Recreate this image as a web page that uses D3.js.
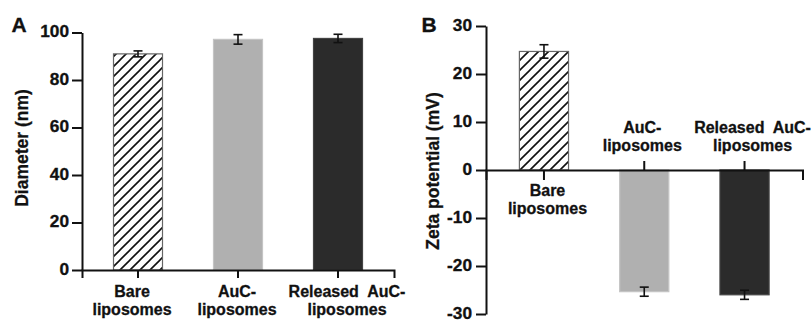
<!DOCTYPE html>
<html>
<head>
<meta charset="utf-8">
<script src="https://cdn.jsdelivr.net/npm/d3@7"></script>
<style>
  body { margin: 0; background: #fff; }
  svg text { font-family: "Liberation Sans", Arial, sans-serif; font-weight: bold; fill: #111; stroke: #111; stroke-width: 0.3; white-space: pre; }
  .axis path, .axis line { stroke: #111; stroke-width: 2; }
</style>
</head>
<body>
<div id="chart"></div>
<script>
"use strict";

// data
var categories = ["Bare liposomes", "AuC-liposomes", "Released AuC-liposomes"];
var labelLines = [["Bare", "liposomes"], ["AuC-", "liposomes"], ["Released  AuC-", "liposomes"]];
var diameter = [91.0, 97.1, 97.5];
var diameterErr = [1.25, 2.0, 1.75];
var zeta = [24.7, -25.35, -26.0];
var zetaErr = [1.4, 0.95, 0.95];
var diameterTicks = [0, 20, 40, 60, 80, 100];
var zetaTicks = [-30, -20, -10, 0, 10, 20, 30];

var width = 812,
  height = 321;

var fills = ["url(#hatch)", "#b0b0b0", "#2b2b2b"];
var strokes = ["#666", "#c4c4c4", "#444"];

var svg = d3
  .select("#chart")
  .append("svg")
  .attr("width", width)
  .attr("height", height);

// hatch pattern for the bare liposomes bar
var pat = svg
  .append("defs")
  .append("pattern")
  .attr("id", "hatch")
  .attr("patternUnits", "userSpaceOnUse")
  .attr("width", 10)
  .attr("height", 10);
pat.append("rect").attr("width", 10).attr("height", 10).attr("fill", "#fff");
pat
  .append("path")
  .attr("d", "M-1,1 l2,-2 M0,10 l10,-10 M9,11 l2,-2")
  .attr("stroke", "#111")
  .attr("stroke-width", 1.6);

// text helper (sx stretches horizontally)
function label(g, x, y, str, size, anchor, sx) {
  return g
    .append("text")
    .attr("transform", "translate(" + x + "," + y + ") scale(" + sx + ",1)")
    .attr("text-anchor", anchor)
    .attr("xml:space", "preserve")
    .style("font-size", size + "px")
    .text(str);
}

function panel(opts) {
  var g = svg.append("g");
  var y = d3.scaleLinear().domain(opts.domain).range(opts.yRange);
  var x = d3
    .scaleBand()
    .domain(categories)
    .range(opts.xRange)
    .paddingInner(0.51)
    .paddingOuter(opts.padOuter);

  // bars
  g.selectAll("rect.bar")
    .data(opts.values)
    .enter()
    .append("rect")
    .attr("class", "bar")
    .attr("x", function(d, i) { return x(categories[i]); })
    .attr("width", x.bandwidth())
    .attr("y", function(d) { return y(Math.max(0, d)); })
    .attr("height", function(d) { return Math.abs(y(d) - y(0)); })
    .attr("fill", function(d, i) { return fills[i]; })
    .attr("stroke", function(d, i) { return strokes[i]; })
    .attr("stroke-width", 1.2);

  // error bars
  var eb = g.selectAll("g.err")
    .data(opts.values)
    .enter()
    .append("g")
    .attr("class", "err")
    .attr("stroke", "#111")
    .attr("stroke-width", 1.6);
  eb.append("line")
    .attr("x1", function(d, i) { return x(categories[i]) + x.bandwidth() / 2; })
    .attr("x2", function(d, i) { return x(categories[i]) + x.bandwidth() / 2; })
    .attr("y1", function(d, i) { return y(d - opts.errs[i]); })
    .attr("y2", function(d, i) { return y(d + opts.errs[i]); });
  [-1, 1].forEach(function(s) {
    eb.append("line")
      .attr("x1", function(d, i) { return x(categories[i]) + x.bandwidth() / 2 - 4.5; })
      .attr("x2", function(d, i) { return x(categories[i]) + x.bandwidth() / 2 + 4.5; })
      .attr("y1", function(d, i) { return y(d + s * opts.errs[i]); })
      .attr("y2", function(d, i) { return y(d + s * opts.errs[i]); });
  });

  // y axis
  var ya = g
    .append("g")
    .attr("class", "axis")
    .attr("transform", "translate(" + opts.xRange[0] + ",0)")
    .call(d3.axisLeft(y).tickValues(opts.ticks).tickSize(10).tickSizeOuter(0));
  ya.selectAll("text").remove();
  ya.selectAll(".tick").each(function(d) {
    label(d3.select(this), -opts.labelGap, 4, d, 16, "end", 1.08);
  });

  // x axis through zero
  var xa = g
    .append("g")
    .attr("class", "axis")
    .attr("transform", "translate(0," + y(0) + ")")
    .call(d3.axisBottom(x).tickSize(opts.tickDown).tickSizeOuter(opts.tickDown));
  xa.selectAll("text").remove();
  xa.selectAll(".tick line").attr("y2", function(d, i) { return opts.tickDir[i] * opts.tickDown; });

  // category labels
  labelLines.forEach(function(lines, i) {
    var cx = x(categories[i]) + x.bandwidth() / 2 + opts.labelShift[i];
    lines.forEach(function(t, j) {
      label(g, cx, opts.labelY[i] + j * 18, t, 16, "middle", 1);
    });
  });

  // axis title
  g.append("text")
    .attr("transform", "translate(" + opts.titleX + "," + opts.titleY + ") rotate(-90)")
    .attr("text-anchor", "middle")
    .style("font-size", "17.5px")
    .text(opts.title);

  // panel letter
  label(g, opts.letterX, 31.5, opts.letter, 20, "start", 1.05);
}

panel({
  values: diameter,
  errs: diameterErr,
  domain: [0, 100],
  ticks: diameterTicks,
  yRange: [270, 32.5],
  xRange: [82, 394],
  padOuter: 0.315,
  tickDown: 8,
  tickDir: [1, 1, 1],
  labelShift: [-6, -1, 9],
  labelY: [297, 297, 297],
  labelGap: 13,
  title: "Diameter (nm)",
  titleX: 28,
  titleY: 148,
  letter: "A",
  letterX: 11.5
});

panel({
  values: zeta,
  errs: zetaErr,
  domain: [-30, 30],
  ticks: zetaTicks,
  yRange: [314, 26],
  xRange: [486, 802.5],
  padOuter: 0.333,
  tickDown: 10,
  tickDir: [1, -0.9, -0.9],
  labelShift: [3.5, -2, 8],
  labelY: [196, 132.5, 132.5],
  labelGap: 14,
  title: "Zeta potential (mV)",
  titleX: 439,
  titleY: 171,
  letter: "B",
  letterX: 421.5
});
</script>
</body>
</html>
